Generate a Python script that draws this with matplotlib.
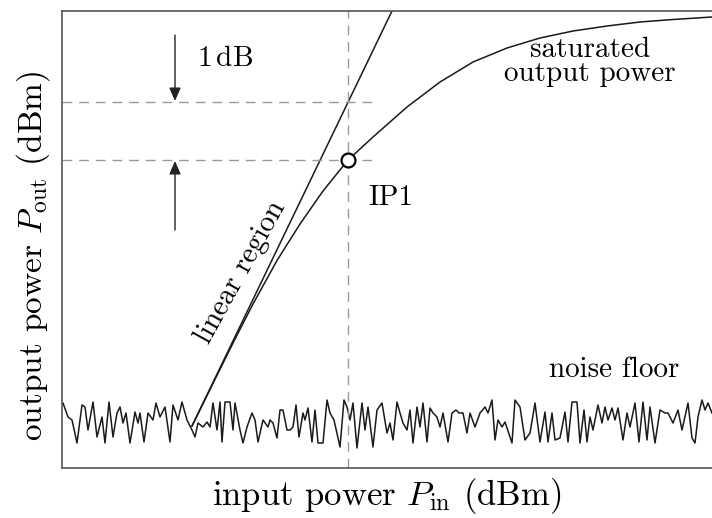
import matplotlib
matplotlib.use("Agg")
import matplotlib.pyplot as plt

plt.rcParams['font.family'] = ['cmr10', 'DejaVu Serif']
plt.rcParams['mathtext.fontset'] = 'cm'
plt.rcParams['axes.unicode_minus'] = False

# input power (arbitrary units) and output power of the amplifier
linear_in = [132, 332]
linear_out = [44, 459]

curve_in = [132, 153, 173, 193, 217, 240, 263, 288, 313, 347, 380, 413,
            447, 480, 513, 547, 580, 613, 652]
curve_out = [44, 86.6, 127, 166, 209.5, 246, 279, 310, 333, 363, 388, 408,
             422, 432, 439, 444, 448, 450.5, 453]

# 1 dB compression point
ip1_in = 288
ip1_out = 310
ip1_lin_out = 368

# noise floor trace
noise_in = [2, 3, 8, 12, 17, 22, 25, 28, 33, 37, 42, 45, 49, 53, 57, 60, 63, 66,
            70, 75, 78, 80, 84, 88, 93, 96, 100, 105, 110, 113, 118, 122, 127,
            132, 135, 138, 143, 147, 150, 153, 157, 160, 162, 165, 170, 173, 175,
            180, 183, 187, 192, 195, 198, 203, 208, 210, 213, 217, 220, 223, 227,
            230, 233, 236, 239, 243, 245, 248, 252, 255, 258, 263, 267, 270, 274,
            280, 284, 287, 290, 293, 297, 302, 305, 308, 313, 317, 322, 327, 330,
            333, 337, 340, 343, 347, 350, 353, 357, 360, 363, 367, 370, 373, 377,
            380, 383, 388, 392, 396, 399, 403, 407, 410, 415, 420, 425, 428, 432,
            435, 438, 442, 445, 452, 455, 460, 465, 470, 475, 480, 485, 488, 492,
            495, 500, 505, 508, 512, 517, 520, 524, 527, 530, 533, 538, 542, 545,
            548, 552, 555, 558, 563, 567, 570, 575, 579, 583, 587, 590, 595, 600,
            605, 608, 613, 618, 622, 628, 632, 635, 638, 642, 645, 648, 652]
noise_out = [66, 67, 53, 50, 27, 65, 63, 40, 68, 33, 53, 27, 68, 33, 57, 63, 47, 57,
             27, 58, 47, 57, 28, 57, 50, 67, 53, 63, 28, 65, 50, 68, 50,
             40, 33, 47, 43, 48, 43, 67, 40, 68, 28, 68, 68, 40, 67,
             40, 27, 43, 57, 50, 28, 50, 43, 50, 47, 32, 60, 60, 40,
             40, 43, 65, 33, 57, 50, 62, 28, 60, 27, 27, 70, 57, 50,
             23, 70, 63, 50, 67, 22, 67, 40, 63, 23, 60, 67, 37, 47,
             30, 68, 57, 47, 40, 60, 27, 63, 43, 67, 28, 62, 57, 53,
             43, 57, 28, 57, 60, 57, 57, 37, 57, 43, 57, 63, 57, 70,
             30, 50, 43, 48, 27, 70, 63, 30, 37, 67, 28, 58, 28, 57,
             30, 32, 58, 28, 68, 68, 27, 60, 28, 53, 40, 65, 47, 63,
             50, 62, 50, 62, 30, 57, 43, 67, 28, 68, 30, 63, 27, 60,
             57, 57, 47, 60, 40, 67, 32, 27, 53, 70, 60, 67, 57]

fig = plt.figure(figsize=(7.12, 5.18), dpi=100)
ax = fig.add_axes([62 / 712, 50 / 518, 650 / 712, 457 / 518])
ax.set_xlim(2, 652)
ax.set_ylim(2, 459)

line_kw = dict(color='#1a1a1a', lw=1.1, solid_joinstyle='round')
ax.plot(noise_in, noise_out, **line_kw)
ax.plot(linear_in, linear_out, **line_kw)
ax.plot(curve_in, curve_out, **line_kw)

dash_kw = dict(color='#999999', lw=1.0, dashes=(7, 5))
ax.axvline(ip1_in, **dash_kw)
ax.plot([2, 318], [ip1_lin_out, ip1_lin_out], **dash_kw)
ax.plot([2, 318], [ip1_out, ip1_out], **dash_kw)

ax.plot([ip1_in], [ip1_out], marker='o', ms=10, mfc='white', mec='black',
        mew=1.6, zorder=5)

arrow_kw = dict(arrowstyle='-|>,head_length=0.8,head_width=0.35', color='#222222',
                lw=1.0, shrinkA=0, shrinkB=0)
ax.annotate('', xy=(115, ip1_lin_out + 1), xytext=(115, 435), arrowprops=arrow_kw)
ax.annotate('', xy=(115, ip1_out - 1), xytext=(115, 240), arrowprops=arrow_kw)

fs = 21
ax.text(137, 411, r'1$\,$dB', fontsize=fs, va='center', ha='left')
ax.text(530, 408, 'saturated\noutput power', fontsize=fs, va='center',
        ha='center', linespacing=0.9)
ax.text(308, 272, 'IP1', fontsize=fs, va='center', ha='left')
ax.text(554, 100, 'noise floor', fontsize=fs, va='center', ha='center')
ax.text(181, 198, 'linear region', fontsize=fs, va='center', ha='center',
        rotation=61, rotation_mode='anchor')

ax.set_xlabel(r'input power $P_{\rm in}$ (dBm)', fontsize=25, labelpad=6)
ax.set_ylabel(r'output power $P_{\rm out}$ (dBm)', fontsize=24)
ax.yaxis.set_label_coords(-0.016, 0.465)

ax.set_xticks([])
ax.set_yticks([])
for side in ['left', 'bottom', 'top']:
    ax.spines[side].set_color('#555555')
    ax.spines[side].set_linewidth(1.2)
ax.spines['right'].set_visible(False)

fig.savefig('out.png', dpi=100)
